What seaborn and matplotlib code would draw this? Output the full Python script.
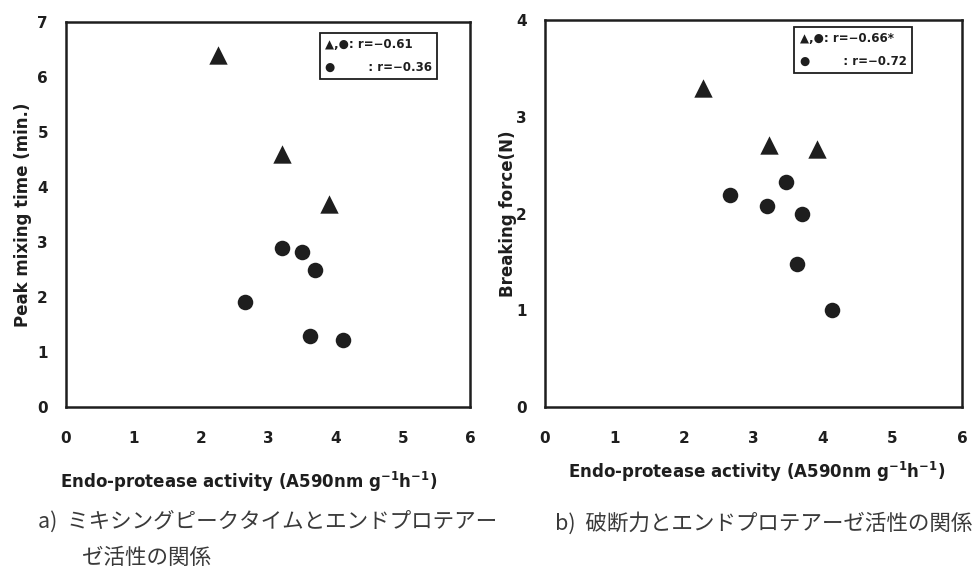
import matplotlib
matplotlib.use("Agg")
import matplotlib.pyplot as plt
import seaborn as sns
import pandas as pd

# ---- data ----
# panel a) peak mixing time vs endo-protease activity
a_tri_x = [2.26, 3.21, 3.90]
a_tri_y = [6.40, 4.60, 3.70]
a_cir_x = [3.21, 3.50, 3.70, 2.66, 3.62, 4.11]
a_cir_y = [2.90, 2.81, 2.50, 1.91, 1.29, 1.21]
# panel b) breaking force vs endo-protease activity
b_tri_x = [2.28, 3.23, 3.91]
b_tri_y = [3.30, 2.71, 2.67]
b_cir_x = [2.66, 3.47, 3.20, 3.70, 3.62, 4.13]
b_cir_y = [2.19, 2.33, 2.08, 2.00, 1.48, 1.00]

x_ticks = [0, 1, 2, 3, 4, 5, 6]
a_y_ticks = [0, 1, 2, 3, 4, 5, 6, 7]
b_y_ticks = [0, 1, 2, 3, 4]

a_ylabel = "Peak mixing time (min.)"
b_ylabel = "Breaking force(N)"
xlabel = r"Endo-protease activity (A590nm g$^{\mathbf{-1}}$h$^{\mathbf{-1}}$)"
a_legend = "▲,●: r=−0.61\n●        : r=−0.36"
b_legend = "▲,●: r=−0.66*\n●        : r=−0.72"
cap_a1 = "a)  ミキシングピークタイムとエンドプロテアー"
cap_a2 = "ゼ活性の関係"
cap_b = "b)  破断力とエンドプロテアーゼ活性の関係"

sns.set_theme(style="white")
plt.rcParams['font.family'] = ['DejaVu Sans']

W, H = 978, 568
fig = plt.figure(figsize=(W / 100, H / 100), dpi=100)

def px_axes(l, t, r, b):
    return fig.add_axes([l / W, 1 - b / H, (r - l) / W, (b - t) / H])

ax_a = px_axes(66, 22, 470, 407)
ax_b = px_axes(545, 20, 962, 407)

ink = "#1e1e1e"

def draw(ax, tx, ty, cx, cy, yticks, ylabel, leg, leg_xy, ylab_x, xlab_xy):
    df_t = pd.DataFrame({"x": tx, "y": ty})
    df_c = pd.DataFrame({"x": cx, "y": cy})
    sns.scatterplot(data=df_t, x="x", y="y", ax=ax, marker="^", s=175,
                    color=ink, edgecolor=ink, linewidth=0)
    sns.scatterplot(data=df_c, x="x", y="y", ax=ax, marker="o", s=125,
                    color=ink, edgecolor=ink, linewidth=0)
    ax.set_xlim(0, 6)
    ax.set_ylim(0, yticks[-1])
    ax.set_xticks(x_ticks)
    ax.set_yticks(yticks)
    ax.tick_params(axis="x", direction="in", length=3, width=0.8, pad=17,
                   labelsize=11, colors=ink)
    ax.tick_params(axis="y", direction="in", length=3, width=0.8, pad=13,
                   labelsize=11, colors=ink)
    for lab in ax.get_xticklabels() + ax.get_yticklabels():
        lab.set_fontweight("bold")
    for sp in ax.spines.values():
        sp.set_visible(True)
        sp.set_linewidth(1.8)
        sp.set_color(ink)
    ax.set_ylabel(ylabel, fontsize=12, fontweight="bold", color=ink)
    ax.yaxis.set_label_coords(ylab_x, 0.5)
    ax.set_xlabel(xlabel, fontsize=12, fontweight="bold", color=ink, va="center")
    ax.xaxis.set_label_coords(*xlab_xy)
    ax.text(leg_xy[0], leg_xy[1], leg, transform=ax.transAxes, ha="left", va="top",
            fontsize=8.5, fontweight="bold", color=ink, linespacing=2.0,
            bbox=dict(boxstyle="square,pad=0.45", facecolor="white", edgecolor=ink,
                      linewidth=1.3))

draw(ax_a, a_tri_x, a_tri_y, a_cir_x, a_cir_y, a_y_ticks, a_ylabel, a_legend,
     (0.641, 0.958), -0.085, (0.453, -0.195))
draw(ax_b, b_tri_x, b_tri_y, b_cir_x, b_cir_y, b_y_ticks, b_ylabel, b_legend,
     (0.611, 0.969), -0.068, (0.508, -0.168))

cjk = ['Noto Sans CJK JP', 'DejaVu Sans']
cap_col = "#3a3a3a"
fig.text(38 / W, 1 - 522 / H, cap_a1, family=cjk, fontsize=15.5, va="center",
         ha="left", color=cap_col)
fig.text(82 / W, 1 - 558 / H, cap_a2, family=cjk, fontsize=15.5, va="center",
         ha="left", color=cap_col)
fig.text(555 / W, 1 - 523 / H, cap_b, family=cjk, fontsize=15.5, va="center",
         ha="left", color=cap_col)

fig.savefig("out.png", dpi=100)
